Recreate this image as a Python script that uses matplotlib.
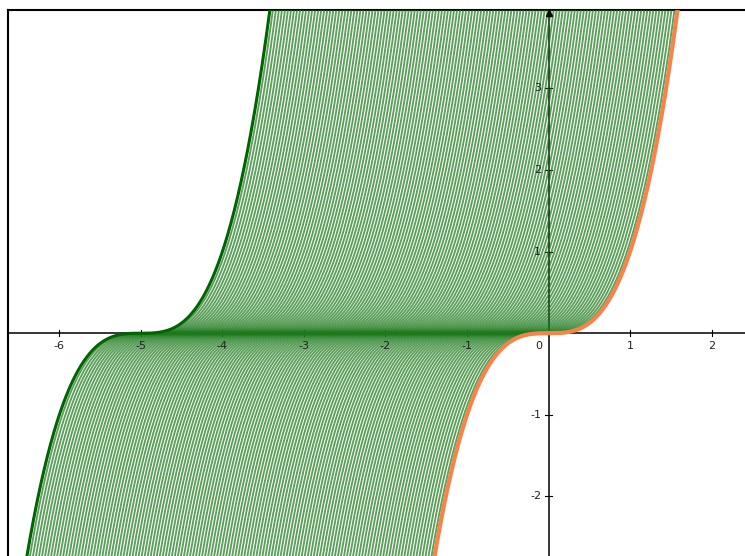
import numpy as np
import matplotlib
matplotlib.use("Agg")
import matplotlib.pyplot as plt

# family of shifted cubics y = (x + a)^3, a from 0 to 5
a_max = 5.0
n_curves = 136
shifts = np.linspace(0, a_max, n_curves)

x_ticks = [-6, -5, -4, -3, -2, -1, 1, 2]
y_ticks = [-2, -1, 1, 2, 3]

xlim = (-6.63, 2.41)
ylim = (-2.73, 3.96)

fig = plt.figure(figsize=(7.45, 5.56), dpi=100)
ax = fig.add_axes([8 / 745, 0, 1 - 8 / 745, 1 - 10 / 556])
ax.set_xlim(*xlim)
ax.set_ylim(*ylim)

x = np.linspace(xlim[0], xlim[1], 2000)
for a in shifts:
    ax.plot(x, (x + a) ** 3, color="#1c7a1c", lw=1.35, alpha=0.72, zorder=3)

# boundary curves
ax.plot(x, (x + a_max) ** 3, color="#006400", lw=2.2, zorder=4)
ax.plot(x, x ** 3, color="#f7834a", lw=3.0, zorder=5)

# axes through origin
ax.axhline(0, color="black", lw=1.1, zorder=2)
ax.axvline(0, color="black", lw=1.1, zorder=2)
ax.plot([0], [ylim[1] - 0.04], marker="^", color="black", ms=5, zorder=6, clip_on=False)

tick_len = 0.04
for t in x_ticks:
    ax.plot([t, t], [-tick_len, tick_len], color="black", lw=0.8, zorder=2)
    ax.text(t, -0.1, str(t), ha="center", va="top", fontsize=8, color="#222222", zorder=7)
ax.text(-0.08, -0.1, "0", ha="right", va="top", fontsize=8, color="#222222", zorder=7)
for t in y_ticks:
    ax.plot([-tick_len, tick_len], [t, t], color="black", lw=0.8, zorder=2)
    ax.text(-0.09, t, str(t), ha="right", va="center", fontsize=8, color="#222222", zorder=7)

ax.set_xticks([])
ax.set_yticks([])
ax.spines["right"].set_visible(False)
ax.spines["bottom"].set_visible(False)
ax.spines["top"].set_linewidth(1.5)
ax.spines["left"].set_linewidth(1.5)

fig.savefig("out.png", dpi=100)
